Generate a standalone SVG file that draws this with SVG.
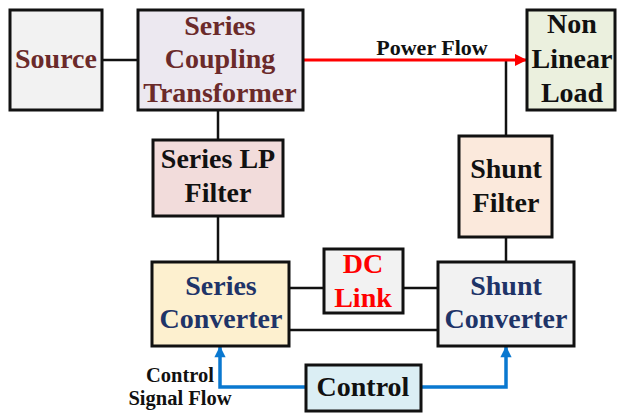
<svg xmlns="http://www.w3.org/2000/svg" width="618" height="415" viewBox="0 0 618 415">
<defs>
<style>
.box{stroke:#111;stroke-width:3}
.t{font-family:"Liberation Serif","Times New Roman",serif;font-weight:bold;font-size:28px;text-anchor:middle}
.brown{fill:#6b2a2a}
.navy{fill:#1f3468}
.blk{fill:#111}
.red{fill:#ff0000}
.wire{stroke:#111;stroke-width:2.5;fill:none}
.sig{stroke:#0a78d0;stroke-width:3.5;fill:none}
</style>
<marker id="ra" viewBox="0 0 10 10" refX="10" refY="5" markerWidth="5" markerHeight="4" markerUnits="strokeWidth" orient="auto"><path d="M0,0L10,5L0,10z" fill="#ff0000"/></marker>
<marker id="ba" viewBox="0 0 10 10" refX="10" refY="5" markerWidth="4" markerHeight="3.2" markerUnits="strokeWidth" orient="auto"><path d="M0,0L10,5L0,10z" fill="#0a78d0"/></marker>
</defs>
<g id="connectors">
<path class="wire" d="M102,60H138"/>
<path class="wire" d="M218,110V140"/>
<path class="wire" d="M218,216V262"/>
<path class="wire" d="M506,60V136"/>
<path class="wire" d="M506,237V262"/>
<path class="wire" d="M289,288H324"/>
<path class="wire" d="M403,288H438"/>
<path class="wire" d="M289,330H438"/>
<path d="M303,60H527" stroke="#ff0000" stroke-width="3" fill="none" marker-end="url(#ra)"/>
<text x="432" y="55" class="t blk" style="font-size:22px">Power Flow</text>
<path class="sig" d="M306,387H220V346" marker-end="url(#ba)"/>
<path class="sig" d="M421,387H506V346" marker-end="url(#ba)"/>
<text x="180" y="382" class="t blk" style="font-size:20.5px">Control</text>
<text x="180" y="405" class="t blk" style="font-size:20.5px">Signal Flow</text>
</g>
<g id="source">
<rect class="box" x="10" y="10" width="92" height="100" fill="#f2f2f2"/>
<text x="56" y="68" class="t brown">Source</text>
</g>
<g id="sct">
<rect class="box" x="138" y="10" width="165" height="100" fill="#ece8f0"/>
<text x="220" y="35" class="t brown">Series</text>
<text x="220" y="68" class="t brown">Coupling</text>
<text x="220" y="102" class="t brown">Transformer</text>
</g>
<g id="nll">
<rect class="box" x="527" y="10" width="88" height="100" fill="#ebf0de"/>
<text x="572" y="33" class="t blk">Non</text>
<text x="572" y="68" class="t blk">Linear</text>
<text x="572" y="102" class="t blk">Load</text>
</g>
<g id="serieslp">
<rect class="box" x="153" y="140" width="130" height="76" fill="#f2dcdb"/>
<text x="218" y="168" class="t blk">Series LP</text>
<text x="218" y="202" class="t blk">Filter</text>
</g>
<g id="shuntfilter">
<rect class="box" x="459" y="136" width="93" height="101" fill="#fbe9dc"/>
<text x="506" y="178" class="t blk">Shunt</text>
<text x="506" y="212" class="t blk">Filter</text>
</g>
<g id="seriesconv">
<rect class="box" x="152" y="262" width="137" height="84" fill="#fdf0cf"/>
<text x="221" y="295" class="t navy">Series</text>
<text x="221" y="328" class="t navy">Converter</text>
</g>
<g id="dclink">
<rect class="box" x="324" y="249" width="79" height="64" fill="#f2f2f2"/>
<text x="363" y="273" class="t red">DC</text>
<text x="363" y="307" class="t red">Link</text>
</g>
<g id="shuntconv">
<rect class="box" x="438" y="262" width="136" height="84" fill="#f2f2f2"/>
<text x="506" y="295" class="t navy">Shunt</text>
<text x="506" y="328" class="t navy">Converter</text>
</g>
<g id="control">
<rect class="box" x="306" y="365" width="115" height="46" fill="#dbeef4"/>
<text x="363" y="396" class="t blk">Control</text>
</g>
</svg>
